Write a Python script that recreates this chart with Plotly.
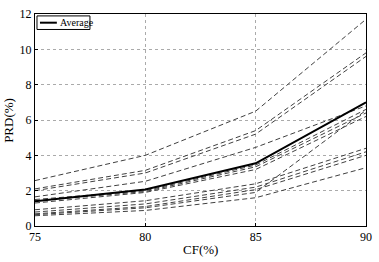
import plotly.graph_objects as go

cf = [75, 80, 85, 90]

series = [
    [2.57, 4.00, 6.50, 11.70],
    [2.10, 3.15, 5.40, 9.80],
    [2.00, 3.00, 5.20, 9.60],
    [1.65, 2.53, 4.45, 6.80],
    [1.50, 2.00, 3.45, 6.60],
    [1.42, 1.95, 3.35, 6.40],
    [1.30, 1.90, 3.20, 6.20],
    [0.92, 1.43, 2.39, 4.40],
    [0.79, 1.25, 2.20, 4.20],
    [0.69, 1.10, 2.06, 4.00],
    [0.64, 1.03, 1.90, 6.55],
    [0.58, 0.88, 1.60, 3.30],
]
average = [1.40, 2.07, 3.55, 7.00]
legend_label = "Average"

fig = go.Figure()
for s in series:
    fig.add_trace(go.Scatter(x=cf, y=s, mode="lines", showlegend=False,
                             line=dict(color="#404040", width=1, dash="5px,3px")))
fig.add_trace(go.Scatter(x=cf, y=average, mode="lines", name=legend_label,
                         showlegend=False, line=dict(color="black", width=2)))

font = "Liberation Serif"
fig.update_layout(
    width=379, height=262,
    margin=dict(l=35, r=7, t=8, b=36),
    paper_bgcolor="white", plot_bgcolor="white",
    font=dict(family=font, size=12, color="black"),
    showlegend=False,
    shapes=[
        dict(type="rect", xref="paper", yref="paper", x0=0.006, x1=0.166,
             y0=0.927, y1=0.991, line=dict(color="black", width=1),
             fillcolor="white", layer="above"),
        dict(type="line", xref="paper", yref="paper", x0=0.015, x1=0.066,
             y0=0.959, y1=0.959, line=dict(color="black", width=2), layer="above"),
    ],
    annotations=[
        dict(text=legend_label, xref="paper", yref="paper", x=0.068, y=0.959,
             xanchor="left", yanchor="middle", showarrow=False,
             font=dict(size=10, family=font)),
        dict(text="CF(%)", xref="paper", yref="paper", x=0.5, y=-0.11,
             xanchor="center", yanchor="middle", showarrow=False,
             font=dict(size=13, family=font)),
        dict(text="PRD(%)", xref="paper", yref="paper", x=-0.082, y=0.5,
             xanchor="center", yanchor="middle", showarrow=False, textangle=-90,
             font=dict(size=13, family=font)),
    ],
)
fig.update_xaxes(range=[75, 90], tickvals=[75, 80, 85, 90],
                 showgrid=True, gridcolor="#aaa", griddash="dot", gridwidth=1,
                 showline=True, linecolor="black", linewidth=1, mirror=True,
                 ticks="inside", ticklen=3, tickcolor="black",
                 zeroline=False)
fig.update_yaxes(range=[0, 12], tickvals=[0, 2, 4, 6, 8, 10, 12],
                 showgrid=True, gridcolor="#aaa", griddash="dot", gridwidth=1,
                 showline=True, linecolor="black", linewidth=1, mirror=True,
                 ticks="inside", ticklen=3, tickcolor="black",
                 zeroline=False)
fig.write_html("out.html", config={"displayModeBar": False},
               post_script="document.body.style.margin='0';document.body.style.overflow='hidden';")
